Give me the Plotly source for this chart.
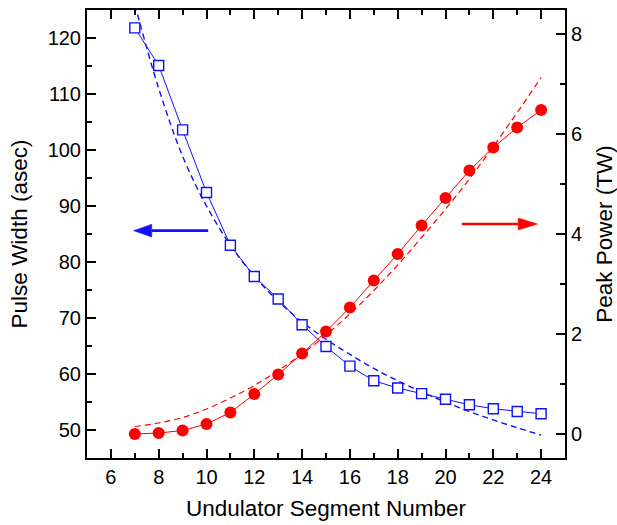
import plotly.graph_objects as go

# Undulator segment count
segments = [7, 8, 9, 10, 11, 12, 13, 14, 15, 16, 17, 18, 19, 20, 21, 22, 23, 24]

# Pulse width (asec): simulated values and fitted trend
pulse_width = [121.8, 115.1, 103.6, 92.4, 83.0, 77.4, 73.4, 68.8, 64.9,
               61.4, 58.8, 57.5, 56.5, 55.5, 54.5, 53.8, 53.3, 52.9]
pulse_width_fit = [126.0, 111.0, 98.9, 90.0, 83.0, 77.5, 73.0, 69.3, 66.2,
                   63.5, 61.0, 58.8, 56.8, 55.0, 53.3, 51.8, 50.4, 49.1]

# Peak power (TW): simulated values and fitted trend
peak_power = [0.0, 0.02, 0.07, 0.2, 0.43, 0.8, 1.19, 1.61, 2.05,
              2.53, 3.07, 3.6, 4.17, 4.72, 5.27, 5.73, 6.13, 6.48]
peak_power_fit = [0.15, 0.22, 0.33, 0.5, 0.72, 0.97, 1.27, 1.6, 1.98,
                  2.4, 2.87, 3.38, 3.93, 4.5, 5.1, 5.75, 6.43, 7.13]

# Axis ticks
x_ticks = [6, 8, 10, 12, 14, 16, 18, 20, 22, 24]
left_ticks = [50, 60, 70, 80, 90, 100, 110, 120]
right_ticks = [0, 2, 4, 6, 8]

BLUE = "#1010ff"
RED = "#ff0000"
FONT = "Arial, Liberation Sans, sans-serif"

fig = go.Figure()

fig.add_trace(go.Scatter(
    x=segments, y=pulse_width_fit, mode="lines", line_shape="spline",
    line=dict(color=BLUE, width=1.4, dash="6px,4px"), yaxis="y", showlegend=False))
fig.add_trace(go.Scatter(
    x=segments, y=peak_power_fit, mode="lines", line_shape="spline",
    line=dict(color=RED, width=1.2, dash="6px,4px"), yaxis="y2", showlegend=False))
fig.add_trace(go.Scatter(
    x=segments, y=pulse_width, mode="lines+markers",
    line=dict(color=BLUE, width=1),
    marker=dict(symbol="square", size=10, color="white",
                line=dict(color=BLUE, width=1.4)),
    yaxis="y", showlegend=False))
fig.add_trace(go.Scatter(
    x=segments, y=peak_power, mode="lines+markers",
    line=dict(color=RED, width=1),
    marker=dict(symbol="circle", size=12, color=RED, line=dict(width=0)),
    yaxis="y2", showlegend=False))

# Direction arrows pointing to each series' axis
blue_arrow = dict(tail=10.07, base=7.71, tip=6.95, y=85.6, half=1.15)
red_arrow = dict(tail=20.68, base=23.04, tip=23.85, y=4.2, half=0.12)

shapes = []
for arr, yref, col in [(blue_arrow, "y", BLUE), (red_arrow, "y2", RED)]:
    shapes.append(dict(type="line", xref="x", yref=yref,
                       x0=arr["tail"], x1=arr["base"], y0=arr["y"], y1=arr["y"],
                       line=dict(color=col, width=2.6)))
    shapes.append(dict(type="path", xref="x", yref=yref,
                       path=(f"M {arr['tip']} {arr['y']} "
                             f"L {arr['base']} {arr['y'] + arr['half']} "
                             f"L {arr['base']} {arr['y'] - arr['half']} Z"),
                       fillcolor=col, line=dict(color=col, width=0.5)))

axis_common = dict(
    showline=True, linecolor="black", linewidth=2,
    ticks="inside", ticklen=9, tickwidth=1.6, tickcolor="black",
    showgrid=False, zeroline=False, automargin=False,
    tickfont=dict(family=FONT, size=20, color="black"),
)

fig.update_layout(
    width=617, height=525,
    margin=dict(l=87, r=52, t=10, b=67),
    paper_bgcolor="white", plot_bgcolor="white",
    shapes=shapes,
    xaxis=dict(
        **axis_common, range=[5, 25], tickvals=x_ticks, mirror="ticks",
        minor=dict(ticks="inside", ticklen=5, tickwidth=1.6, dtick=1, tick0=5,
                   tickcolor="black"),
        title=dict(text="Undulator Segment Number", standoff=13,
                   font=dict(family=FONT, size=22.5, color="black")),
    ),
    yaxis=dict(
        **axis_common, range=[45, 125], tickvals=left_ticks,
        minor=dict(ticks="inside", ticklen=5, tickwidth=1.6, dtick=5, tick0=45,
                   tickcolor="black"),
        title=dict(text="Pulse Width (asec)", standoff=14,
                   font=dict(family=FONT, size=22.5, color="black")),
    ),
    yaxis2=dict(
        **axis_common, range=[-0.48, 8.48], tickvals=right_ticks,
        overlaying="y", side="right",
        minor=dict(ticks="inside", ticklen=5, tickwidth=1.6, dtick=1, tick0=0,
                   tickcolor="black"),
        title=dict(text="Peak Power (TW)", standoff=16,
                   font=dict(family=FONT, size=22.5, color="black")),
    ),
)

fig.write_html("out.html")
